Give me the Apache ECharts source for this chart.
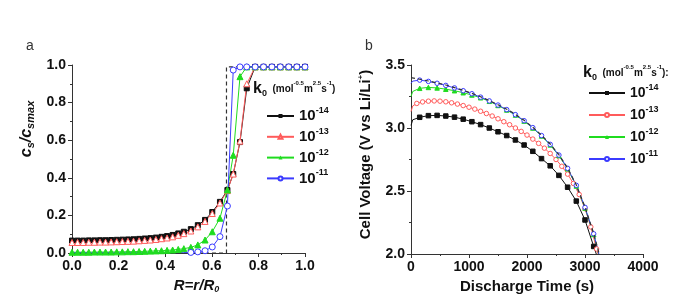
<!DOCTYPE html>
<html>
<head>
<meta charset="utf-8">
<script src="https://cdn.jsdelivr.net/npm/echarts@6/dist/echarts.min.js"></script>
<style>
  html, body { margin: 0; padding: 0; background: #fff; }
  #chart { width: 681px; height: 303px; }
</style>
</head>
<body>
<div id="chart"></div>
<script>
// ---- panel a: normalized concentration vs radius ----
const rPos = [0, 0.024, 0.048, 0.072, 0.096, 0.12, 0.144, 0.168, 0.192, 0.216, 0.24, 0.264, 0.288, 0.312,
  0.336, 0.36, 0.384, 0.408, 0.432, 0.456, 0.48, 0.51, 0.54, 0.571, 0.602, 0.635, 0.667, 0.692, 0.721,
  0.75, 0.786, 0.822, 0.858, 0.894, 0.93, 0.965, 1.0]
const csK14 = [0.066, 0.066, 0.066, 0.067, 0.067, 0.068, 0.068, 0.069, 0.070, 0.071, 0.072, 0.073, 0.075, 0.077,
  0.079, 0.082, 0.086, 0.090, 0.096, 0.104, 0.113, 0.127, 0.148, 0.176, 0.218, 0.272, 0.335, 0.420, 0.590,
  0.876, 0.99, 0.99, 0.99, 0.99, 0.99, 0.99, 0.99]
const csK13 = [0.056, 0.056, 0.056, 0.057, 0.057, 0.058, 0.058, 0.059, 0.060, 0.061, 0.062, 0.063, 0.065, 0.067,
  0.069, 0.072, 0.076, 0.080, 0.086, 0.094, 0.103, 0.117, 0.139, 0.168, 0.210, 0.266, 0.332, 0.420, 0.595,
  0.900, 0.99, 0.99, 0.99, 0.99, 0.99, 0.99, 0.99]
const csK12 = [0.004, 0.004, 0.004, 0.004, 0.005, 0.005, 0.005, 0.005, 0.006, 0.006, 0.007, 0.007, 0.008, 0.009,
  0.010, 0.011, 0.012, 0.014, 0.016, 0.019, 0.023, 0.030, 0.043, 0.069, 0.113, 0.185, 0.335, 0.520, 0.938,
  0.99, 0.99, 0.99, 0.99, 0.99, 0.99, 0.99, 0.99]
const csK11 = [0.001, 0.001, 0.001, 0.001, 0.001, 0.001, 0.001, 0.001, 0.001, 0.001, 0.001, 0.001, 0.001, 0.001,
  0.001, 0.001, 0.001, 0.001, 0.002, 0.002, 0.002, 0.003, 0.006, 0.012, 0.032, 0.087, 0.250, 0.973, 0.99,
  0.99, 0.99, 0.99, 0.99, 0.99, 0.99, 0.99, 0.99]
// dashed step profile
const stepR = [0, 0.663, 0.663, 1.0]
const stepC = [0.0, 0.0, 0.99, 0.99]

// ---- panel b: cell voltage vs discharge time ----
const tK14 = [0, 30, 150, 300, 450, 600, 750, 900, 1050, 1200, 1350, 1500, 1650, 1800, 1950, 2100, 2250,
  2400, 2550, 2700, 2850, 3000, 3150, 3195]
const vK14 = [3.02, 3.065, 3.085, 3.098, 3.100, 3.095, 3.086, 3.070, 3.050, 3.027, 3.000, 2.970, 2.940, 2.905,
  2.865, 2.815, 2.757, 2.700, 2.624, 2.530, 2.420, 2.270, 2.060, 2.0]
const tK13 = [0, 30, 100, 200, 300, 400, 500, 600, 700, 800, 900, 1000, 1100, 1200, 1300, 1400, 1500, 1600,
  1700, 1800, 1900, 2000, 2100, 2200, 2300, 2400, 2500, 2600, 2700, 2800, 2900, 3000, 3100, 3200, 3225]
const vK13 = [3.13, 3.175, 3.195, 3.207, 3.213, 3.215, 3.213, 3.208, 3.200, 3.190, 3.178, 3.165, 3.150, 3.133,
  3.115, 3.095, 3.073, 3.050, 3.026, 3.000, 2.973, 2.944, 2.912, 2.878, 2.840, 2.798, 2.750, 2.696, 2.634,
  2.560, 2.472, 2.360, 2.215, 2.040, 2.0]
const tK12 = [0, 30, 150, 300, 450, 600, 750, 900, 1050, 1200, 1350, 1500, 1650, 1800, 1950, 2100, 2250,
  2400, 2550, 2700, 2850, 3000, 3150, 3235]
const vK12 = [3.25, 3.29, 3.315, 3.322, 3.318, 3.308, 3.296, 3.280, 3.262, 3.240, 3.212, 3.179, 3.143, 3.103,
  3.055, 3.000, 2.937, 2.866, 2.781, 2.676, 2.540, 2.365, 2.155, 2.0]
const tK11 = [0, 30, 150, 300, 450, 600, 750, 900, 1050, 1200, 1350, 1500, 1650, 1800, 1950, 2100, 2250,
  2400, 2550, 2700, 2850, 3000, 3150, 3240]
const vK11 = [3.355, 3.372, 3.380, 3.370, 3.355, 3.338, 3.318, 3.296, 3.272, 3.245, 3.215, 3.182, 3.146, 3.106,
  3.058, 3.003, 2.940, 2.870, 2.785, 2.680, 2.545, 2.370, 2.160, 2.0]
const tBound = [0, 150, 300, 450, 600, 750, 900, 1050, 1200, 1350, 1500, 1650, 1800, 1950, 2100, 2250, 2400,
  2550, 2700, 2850, 3000, 3150, 3245]
const vBound = [3.40, 3.387, 3.373, 3.358, 3.341, 3.321, 3.299, 3.275, 3.248, 3.218, 3.185, 3.149, 3.109, 3.061,
  3.006, 2.943, 2.873, 2.788, 2.683, 2.548, 2.373, 2.163, 2.0]

const expLabels = { L14: '-14', L13: '-13', L12: '-12', L11: '-11', R14: '-14', R13: '-13', R12: '-12', R11: '-11' }

const FONT = '"Liberation Sans", Arial, sans-serif'
const BLACK = '#111'
const RED = '#ff5b5b'
const GREEN = '#1fdc1f'
const BLUE = '#3b3bff'

const zip = (xs, ys) => xs.map((x, i) => [x, ys[i]])

const chart = echarts.init(document.getElementById('chart'))

const axisCommon = {
  axisLine: { lineStyle: { color: '#333', width: 1 } },
  axisTick: { length: 4, lineStyle: { color: '#333' } },
  minorTick: { show: true, splitNumber: 2, length: 2, lineStyle: { color: '#333' } },
  splitLine: { show: false },
  axisLabel: { color: '#111', fontSize: 14, fontWeight: 'bold', fontFamily: FONT, margin: 6 }
}

// markStep: only put a marker on every markStep-th time; minX: no markers left of it
const makeLine = (name, data, color, symbol, open, xi, size, markStep, minX) => ({
  name: name,
  type: 'line',
  xAxisIndex: xi,
  yAxisIndex: xi,
  data: data,
  symbol: symbol,
  showAllSymbol: true,
  symbolSize: v => {
    if (markStep && !(v[0] > 0 && v[0] % markStep === 0)) return 0
    if (minX && v[0] < minX) return 0
    return size
  },
  lineStyle: { color: color, width: 1 },
  itemStyle: open ? { color: '#fff', borderColor: color, borderWidth: 1 } : { color: color, borderColor: color },
  emphasis: { disabled: true },
  z: 3
})

const legendRich = (big) => ({
  n: { fontSize: big, fontWeight: 'bold', fontFamily: FONT, color: '#111', lineHeight: 20 },
  s: { fontSize: 9, fontWeight: 'bold', fontFamily: FONT, color: '#111', lineHeight: 8, verticalAlign: 'top' }
})

const headerRich = {
  k: { fontSize: 16, fontWeight: 'bold', fontFamily: FONT, color: '#111', lineHeight: 18 },
  sub: { fontSize: 9, fontWeight: 'bold', fontFamily: FONT, color: '#111', lineHeight: 8, verticalAlign: 'bottom' },
  u: { fontSize: 10, fontWeight: 'bold', fontFamily: FONT, color: '#111', lineHeight: 18 },
  sup: { fontSize: 6, fontWeight: 'bold', fontFamily: FONT, color: '#111', lineHeight: 8, verticalAlign: 'top' }
}
const headerText = '{k|k}{sub|0}{u|  (mol}{sup|-0.5}{u|m}{sup|2.5}{u|s}{sup|-1}{u|)'

chart.setOption({
  animation: false,
  backgroundColor: '#fff',
  title: [
    { text: 'a', left: 26, top: 39, padding: 0, textStyle: { fontSize: 14, fontWeight: 'normal', color: '#333', fontFamily: FONT } },
    { text: 'b', left: 365, top: 39, padding: 0, textStyle: { fontSize: 14, fontWeight: 'normal', color: '#333', fontFamily: FONT } },
    { text: headerText + '}', left: 253, top: 80, padding: 0, textStyle: { rich: headerRich } },
    { text: headerText + ':}', left: 583, top: 64, padding: 0, textStyle: { rich: headerRich } }
  ],
  grid: [
    { left: 72, top: 65, width: 233, height: 188 },
    { left: 411, top: 65, width: 232, height: 189 }
  ],
  legend: [
    {
      orient: 'vertical', left: 266, top: 106, padding: 0, itemWidth: 27, itemHeight: 5, itemGap: 3.3,
      data: ['L14', 'L13', 'L12', 'L11'],
      formatter: n => '{n|10}{s|' + expLabels[n] + '}',
      textStyle: { rich: legendRich(15) }
    },
    {
      orient: 'vertical', left: 588, top: 83, padding: 0, itemWidth: 36, itemHeight: 5, itemGap: 5,
      data: ['R14', 'R13', 'R12', 'R11'],
      formatter: n => '{n|10}{s|' + expLabels[n] + '}',
      textStyle: { rich: legendRich(14) }
    }
  ],
  xAxis: [
    Object.assign({}, axisCommon, {
      gridIndex: 0, type: 'value', min: 0, max: 1, interval: 0.2,
      axisLabel: Object.assign({}, axisCommon.axisLabel, { formatter: v => v.toFixed(1) }),
      name: '{i|R=r/R}{sub|0}', nameLocation: 'middle', nameGap: 22,
      nameTextStyle: {
        rich: {
          i: { fontSize: 15, fontWeight: 'bold', fontStyle: 'italic', fontFamily: FONT, color: '#111', lineHeight: 18 },
          sub: { fontSize: 9, fontWeight: 'bold', fontStyle: 'italic', fontFamily: FONT, color: '#111', lineHeight: 8, verticalAlign: 'bottom' }
        },
        padding: [0, 0, 0, 16]
      }
    }),
    Object.assign({}, axisCommon, {
      gridIndex: 1, type: 'value', min: 0, max: 4000, interval: 1000,
      axisLabel: Object.assign({}, axisCommon.axisLabel, { formatter: v => String(v) }),
      name: 'Discharge Time (s)', nameLocation: 'middle', nameGap: 22,
      nameTextStyle: { fontSize: 15, fontWeight: 'bold', fontFamily: FONT, color: '#111' }
    })
  ],
  yAxis: [
    Object.assign({}, axisCommon, {
      gridIndex: 0, type: 'value', min: 0, max: 1, interval: 0.2,
      axisLabel: Object.assign({}, axisCommon.axisLabel, { formatter: v => v.toFixed(1) }),
      name: '{i|c}{sub|s}{i|/c}{sub|smax}', nameLocation: 'middle', nameGap: 36,
      nameTextStyle: {
        rich: {
          i: { fontSize: 16, fontWeight: 'bold', fontStyle: 'italic', fontFamily: FONT, color: '#111', lineHeight: 18 },
          sub: { fontSize: 11, fontWeight: 'bold', fontStyle: 'italic', fontFamily: FONT, color: '#111', lineHeight: 8, verticalAlign: 'bottom' }
        },
        padding: [0, 0, 0, 60]
      }
    }),
    Object.assign({}, axisCommon, {
      gridIndex: 1, type: 'value', min: 2.0, max: 3.5, interval: 0.5,
      axisLabel: Object.assign({}, axisCommon.axisLabel, { formatter: v => v.toFixed(1) }),
      name: '{t|Cell Voltage (V vs Li/Li}{sup|+}{t|)}', nameLocation: 'middle', nameGap: 36,
      nameTextStyle: {
        rich: {
          t: { fontSize: 15, fontWeight: 'bold', fontFamily: FONT, color: '#111', lineHeight: 18 },
          sup: { fontSize: 8, fontWeight: 'bold', fontFamily: FONT, color: '#111', lineHeight: 8, verticalAlign: 'top' }
        },
        padding: [0, 0, 0, 10]
      }
    })
  ],
  series: [
    {
      type: 'line', xAxisIndex: 0, yAxisIndex: 0, data: zip(stepR, stepC), showSymbol: false,
      lineStyle: { color: '#333', width: 1.2, type: [4, 3] }, z: 2, emphasis: { disabled: true }
    },
    makeLine('L14', zip(rPos, csK14), BLACK, 'rect', false, 0, 5),
    makeLine('L13', zip(rPos, csK13), RED, 'triangle', true, 0, 6),
    makeLine('L12', zip(rPos, csK12), GREEN, 'triangle', false, 0, 6),
    makeLine('L11', zip(rPos, csK11), BLUE, 'circle', true, 0, 6, 0, 0.5),

    makeLine('R14', zip(tK14, vK14), BLACK, 'rect', false, 1, 4.5, 150),
    makeLine('R13', zip(tK13, vK13), RED, 'circle', true, 1, 4.5, 100),
    makeLine('R12', zip(tK12, vK12), GREEN, 'triangle', false, 1, 4.5, 150),
    makeLine('R11', zip(tK11, vK11), BLUE, 'circle', true, 1, 4.5, 150),
    {
      type: 'line', xAxisIndex: 1, yAxisIndex: 1, data: zip(tBound, vBound), showSymbol: false,
      lineStyle: { color: '#333', width: 1.2, type: [4, 3] }, z: 4, emphasis: { disabled: true }
    }
  ]
})

window.addEventListener('resize', () => chart.resize())
</script>
</body>
</html>
